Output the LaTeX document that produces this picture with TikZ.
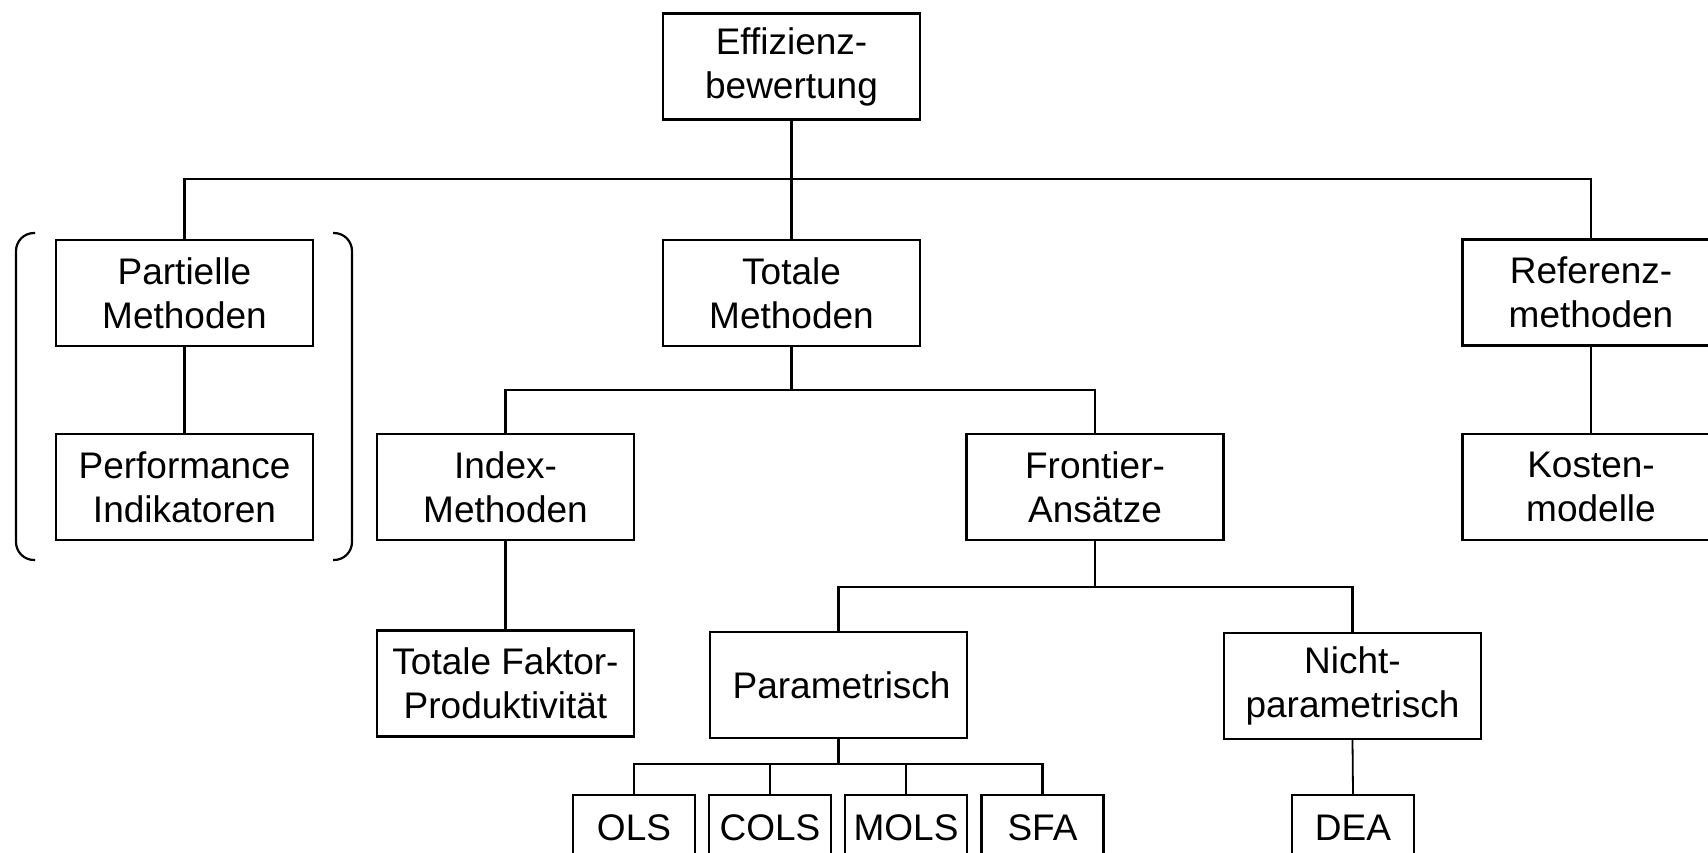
\documentclass[tikz,border=0pt]{standalone}
\usepackage{fontspec}
\setmainfont{Liberation Sans}
\begin{document}
\begin{tikzpicture}[x=1pt,y=-1pt,
  txt/.style={font=\fontsize{37}{44}\selectfont, align=center, inner sep=0pt},
  box/.style={txt, draw, line width=2.2pt, minimum width=257pt, minimum height=106pt},
  sbox/.style={txt, draw, line width=2.2pt, minimum width=122pt, minimum height=66pt, anchor=north},
  conn/.style={line width=2.2pt},
  thin/.style={line width=1.8pt},
  brack/.style={line width=2.2pt, rounded corners=18pt}]
\useasboundingbox (0,0) rectangle (1708,852);
\clip (0,0) rectangle (1708,852);

% nodes
\node[box] (eff)   at (791.5,66.5) {Effizienz-\\bewertung};
\node[box] (part)  at (184.5,293)  {Partielle\\Methoden};
\node[box] (perf)  at (184.5,487)  {Performance\\Indikatoren};
\node[box] (tot)   at (791.5,293)  {Totale\\Methoden};
\node[box] (ref)   at (1591,292.5) {Referenz-\\methoden};
\node[box] (kost)  at (1591,487)   {Kosten-\\modelle};
\node[box] (index) at (505.5,487)  {Index-\\Methoden};
\node[box] (front) at (1095,487)   {Frontier-\\Ans\"atze};
\node[box] (tfp)   at (505.5,683.5) {Totale Faktor-\\Produktivit\"at};
\node[box] (param) at (838.5,685)  {\,Parametrisch};
\node[box] (nicht) at (1352.5,686) {Nicht-\\parametrisch};
\node[sbox] (ols)  at (634,794)    {OLS};
\node[sbox] (cols) at (770,794)    {COLS};
\node[sbox] (mols) at (906,794)    {MOLS};
\node[sbox] (sfa)  at (1042.5,794) {SFA};
\node[sbox] (dea)  at (1353,794)   {DEA};

% junction coordinates
\coordinate (j1) at (791.5,179);
\coordinate (j2) at (791.5,390);
\coordinate (j3) at (1095,587);
\coordinate (j4) at (838.5,764);

% level 1
\draw[conn] (eff.south) -- (tot.north);
\draw[conn] (part.north) |- (j1) -| (ref.north);
% partielle
\draw[conn] (part.south) -- (perf.north);
% totale
\draw[conn] (tot.south) -- (j2);
\draw[conn] (index.north) |- (j2) -| (front.north);
\draw[conn] (index.south) -- (tfp.north);
% frontier
\draw[conn] (front.south) -- (j3);
\draw[conn] (param.north) |- (j3) -| (nicht.north);
% parametrisch
\draw[conn] (param.south) -- (j4);
\draw[conn] (ols.north) |- (j4) -| (sfa.north);
\draw[thin] (cols.north) -- (cols.north |- j4);
\draw[thin] (mols.north) -- (mols.north |- j4);
% nicht parametrisch
\draw[thin] (nicht.south) -- (dea.north);
% referenz
\draw[conn] (ref.south) -- (kost.north);

% brackets
\draw[brack] (35,233) -- (16,233) -- (16,560) -- (35,560);
\draw[brack] (333,233) -- (352,233) -- (352,560) -- (333,560);
\end{tikzpicture}
\end{document}
